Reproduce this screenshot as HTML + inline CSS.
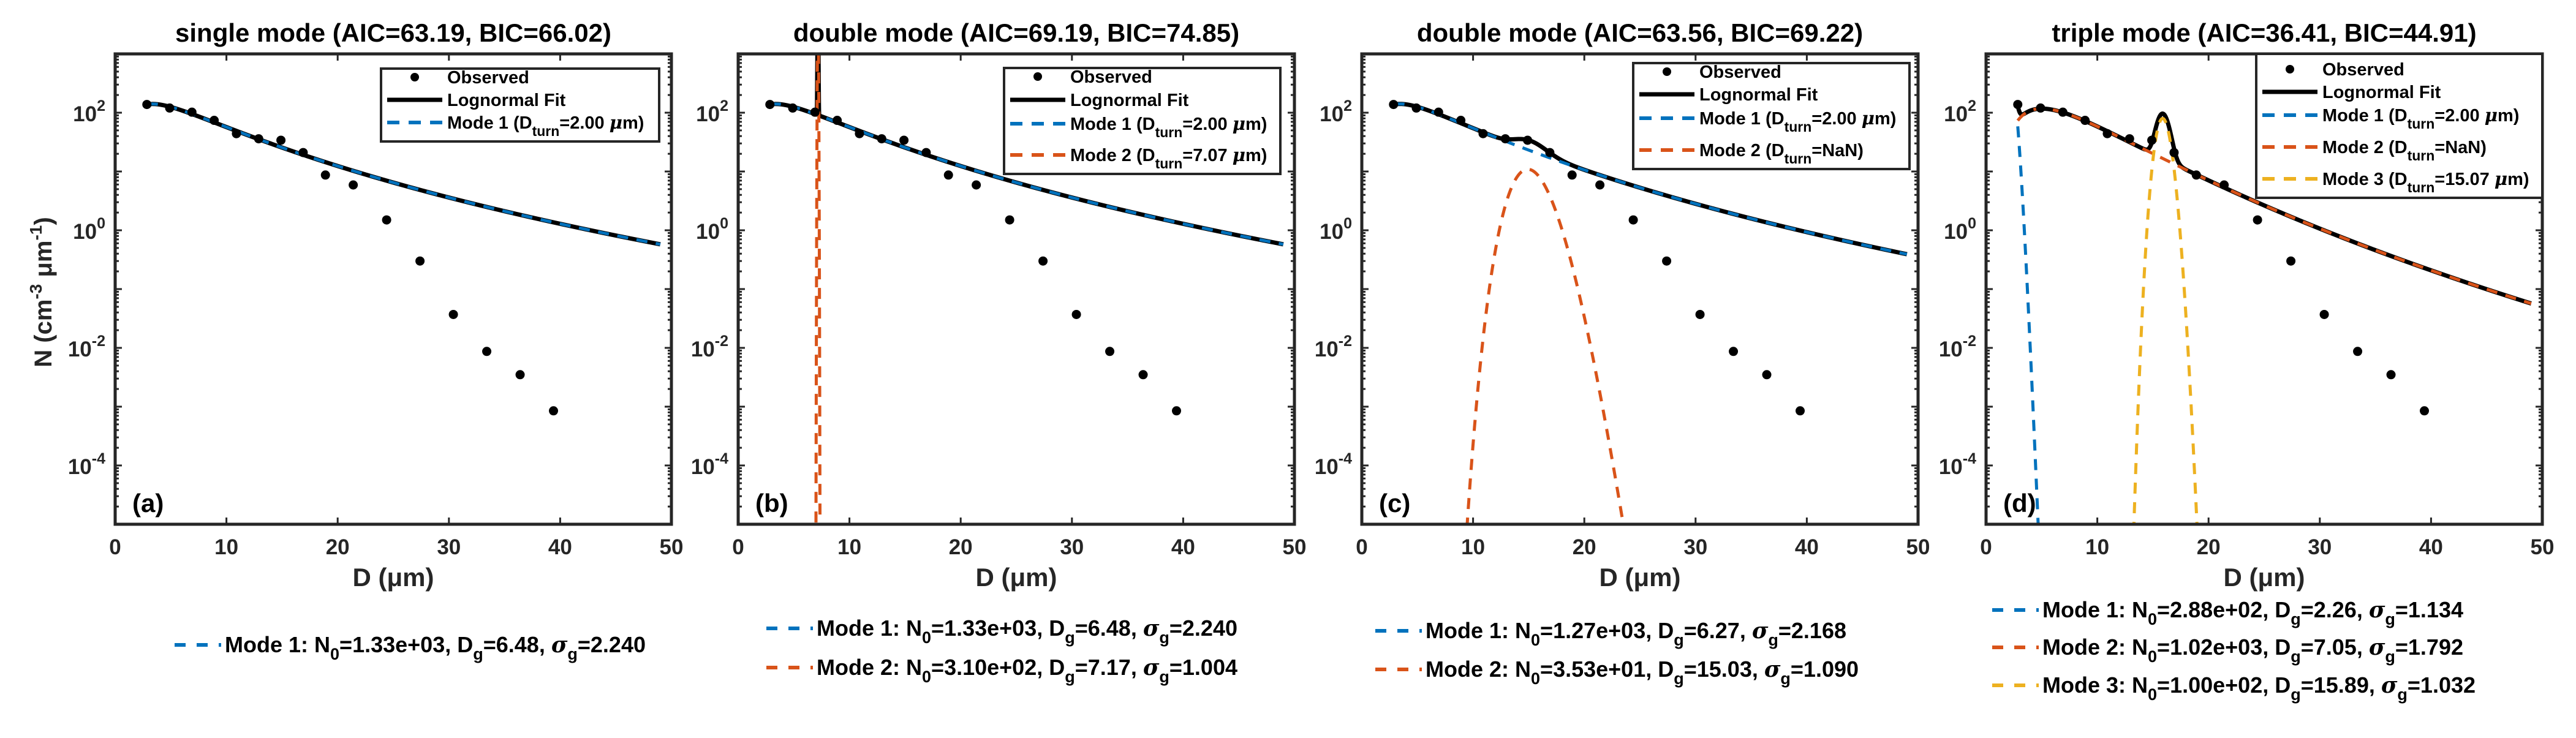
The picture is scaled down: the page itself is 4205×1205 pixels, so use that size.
<!DOCTYPE html>
<html><head><meta charset="utf-8">
<style>
html,body{margin:0;padding:0;background:#fff;}
svg{display:block;font-family:"Liberation Sans",Arial,sans-serif;font-weight:bold;}
</style></head>
<body>
<svg id="chart" xmlns="http://www.w3.org/2000/svg" width="4205" height="1205" viewBox="0 0 4205 1205"></svg>
<script>
// ---- data ----
const obsD = [2.85,4.9,6.9,8.9,10.9,12.9,14.9,16.9,18.9,21.4,24.4,27.4,30.4,33.4,36.4,39.4];
const obsN = [138,120,102,74,44,36,34,21,8.7,5.9,1.5,0.30,0.037,0.0087,0.0035,0.00085];
const titles = ["single mode (AIC=63.19, BIC=66.02)","double mode (AIC=69.19, BIC=74.85)","double mode (AIC=63.56, BIC=69.22)","triple mode (AIC=36.41, BIC=44.91)"];
const panelLabels = ["(a)","(b)","(c)","(d)"];
const modeN0 = [[1330],[1330,310],[1270,35.3],[288,1020,100]];
const modeDg = [[6.48],[6.48,7.17],[6.27,15.03],[2.26,7.05,15.89]];
const modeSg = [[2.240],[2.240,1.004],[2.168,1.090],[1.134,1.792,1.032]];
const modeN0Text = [["1.33e+03"],["1.33e+03","3.10e+02"],["1.27e+03","3.53e+01"],["2.88e+02","1.02e+03","1.00e+02"]];
const modeDgText = [["6.48"],["6.48","7.17"],["6.27","15.03"],["2.26","7.05","15.89"]];
const modeSgText = [["2.240"],["2.240","1.004"],["2.168","1.090"],["1.134","1.792","1.032"]];
const dTurn = [["2.00"],["2.00","7.07"],["2.00","NaN"],["2.00","NaN","15.07"]];
const xTicks = [0,10,20,30,40,50];
const yTickExp = [-4,-2,0,2];
const modeColors = ["#0072BD","#D95319","#EDB120"];

// ---- layout ----
const NS="http://www.w3.org/2000/svg";
const svg=document.getElementById('chart');
const lefts=[188,1205,2223,3242], W=908, TOP=88, BOT=856;
const XMIN=0,XMAX=50,LMIN=-5,LMAX=3;
const legBoxes=[{x:622,y:112,w:454,ys:[136,173,210]},{x:1639,y:111,w:451,ys:[135,173,212,263]},{x:2666,y:103,w:451,ys:[127,164,203,255]},{x:3683,y:88,w:467,ys:[123,160,198,250,302]}];
const botLeg=[{x:285,ys:[1065]},{x:1251,ys:[1038,1102]},{x:2245,ys:[1042,1105]},{x:3252,ys:[1008,1069,1131]}];
function el(tag,attrs,parent){const e=document.createElementNS(NS,tag);for(const k in attrs)e.setAttribute(k,attrs[k]);(parent||svg).appendChild(e);return e;}
function lognorm(D,N0,Dg,sg){const ls=Math.log(sg);const z=Math.log(D/Dg)/ls;return N0/(Math.sqrt(2*Math.PI)*D*ls)*Math.exp(-0.5*z*z);}
const defs=el('defs',{});

for(let p=0;p<4;p++){
  const L=lefts[p];
  const xs=v=>L+(v-XMIN)/(XMAX-XMIN)*W;
  const ys=v=>BOT-(Math.log10(v)-LMIN)/(LMAX-LMIN)*(BOT-TOP);
  const g=el('g',{});
  
  
  const cp=el('clipPath',{id:'clip'+p},defs);
  el('rect',{x:L,y:TOP,width:W,height:BOT-TOP},cp);
  const t=el('text',{x:L+W/2,y:68,'text-anchor':'middle','font-size':42,fill:'#000'},g);
  t.textContent=titles[p];
  
  
  const tk=el('g',{stroke:'#262626','stroke-width':3},g);
  
  
  xTicks.forEach(v=>{
    const x=xs(v);
    el('line',{x1:x,x2:x,y1:BOT,y2:BOT-11},tk);
    el('line',{x1:x,x2:x,y1:TOP,y2:TOP+11},tk);
    const tl=el('text',{x:x,y:905,'text-anchor':'middle','font-size':35,fill:'#262626',stroke:'none'},g);
    tl.textContent=String(v);
    
    
  });
  for(let e=LMIN;e<LMAX;e++){
    for(let m=1;m<10;m++){
      const v=m*Math.pow(10,e); const y=ys(v); const len=(m===1)?11:6;
      if(m===1 && e===LMIN) continue;
      el('line',{x1:L,x2:L+len,y1:y,y2:y},tk);
      el('line',{x1:L+W,x2:L+W-len,y1:y,y2:y},tk);
    }
  }
  yTickExp.forEach(e=>{
    const y=ys(Math.pow(10,e));
    const tl=el('text',{x:L-16,y:y+14,'text-anchor':'end','font-size':35,fill:'#262626'},g);
    
    
    const a=el('tspan',{},tl);a.textContent='10';
    const b=el('tspan',{dy:-17,'font-size':25},tl);b.textContent=String(e);
  });
  const xt=el('text',{x:L+W/2,y:957,'text-anchor':'middle','font-size':42,fill:'#262626'},g);
  xt.textContent='D (\u03bcm)';
  
  
  const cg=el('g',{'clip-path':'url(#clip'+p+')',fill:'none'},g);
  const Ds=[];for(let d=2.85;d<=49.0001;d+=0.005)Ds.push(d);
  const clampY=v=>{const y=ys(Math.max(v,1e-7));return Math.min(Math.max(y,TOP-50),BOT+50);};
  let tot='';
  Ds.forEach((d,i)=>{let s=0;for(let m=0;m<modeN0[p].length;m++)s+=lognorm(d,modeN0[p][m],modeDg[p][m],modeSg[p][m]);tot+=(i?'L':'M')+xs(d).toFixed(2)+' '+clampY(s).toFixed(2);});
  const fit=el('path',{d:tot,stroke:'#000','stroke-width':7,'stroke-linejoin':'round'},cg);
  
  
  for(let m=0;m<modeN0[p].length;m++){
    let d='';
    Ds.forEach((dd,i)=>{const v=lognorm(dd,modeN0[p][m],modeDg[p][m],modeSg[p][m]);d+=(i?'L':'M')+xs(dd).toFixed(2)+' '+clampY(v).toFixed(2);});
    const mp=el('path',{d:d,stroke:modeColors[m],'stroke-width':5,'stroke-dasharray':'18 14'},cg);
    
    
  }
  obsD.forEach((d,i)=>{
    const c=el('circle',{cx:xs(d),cy:ys(obsN[i]),r:7.5,fill:'#000'},cg);
    
    
  });
  const fr=el('rect',{x:L,y:TOP,width:W,height:BOT-TOP,fill:'none',stroke:'#262626','stroke-width':5},g);
  
  
  const pl=el('text',{x:L+28,y:836,'font-size':42,fill:'#000'},g);
  pl.textContent=panelLabels[p];
  
  
  const lb=legBoxes[p];
  const lg=el('g',{},g);
  
  
  const bh=lb.ys[lb.ys.length-1]+21-lb.y;
  el('rect',{x:lb.x,y:lb.y,width:lb.w,height:bh,fill:'#fff',stroke:'#262626','stroke-width':4},lg);
  const lx=lb.x+10, tx=lb.x+108;
  lb.ys.forEach((yy,i)=>{
    const cy=yy-10;
    if(i===0){el('circle',{cx:lx+45,cy:cy,r:7,fill:'#000'},lg);}
    else if(i===1){el('line',{x1:lx,x2:lx+90,y1:cy,y2:cy,stroke:'#000','stroke-width':7},lg);}
    else{el('line',{x1:lx,x2:lx+90,y1:cy,y2:cy,stroke:modeColors[i-2],'stroke-width':6,'stroke-dasharray':'20 15'},lg);}
    const te=el('text',{x:tx,y:yy,'font-size':29,fill:'#000'},lg);
    
    
    if(i===0)te.textContent='Observed';
    else if(i===1)te.textContent='Lognormal Fit';
    else{
      const a=el('tspan',{},te);a.textContent='Mode '+(i-1)+' (D';
      const b=el('tspan',{dy:12,'font-size':23},te);b.textContent='turn';
      const val=dTurn[p][i-2];
      const c=el('tspan',{dy:-12},te);c.textContent='='+val+(val==='NaN'?')':' ');
      if(val!=='NaN'){
        const mu=el('tspan',{'font-style':'italic','font-family':'"DejaVu Serif",serif'},te);mu.textContent='\u03bc';
        const r=el('tspan',{},te);r.textContent='m)';
      }
    }
  });
  const bl=botLeg[p];
  bl.ys.forEach((yy,m)=>{
    const cy=yy-12;
    const ln=el('line',{x1:bl.x,x2:bl.x+76,y1:cy,y2:cy,stroke:modeColors[m],'stroke-width':6,'stroke-dasharray':'18 18'},g);
    
    
    const te=el('text',{x:bl.x+82,y:yy,'font-size':36,fill:'#000'},g);
    
    
    const parts=[['Mode '+(m+1)+': N',0],['0',1],['='+modeN0Text[p][m]+', D',0],['g',1],['='+modeDgText[p][m]+', ',0],['\u03c3',2],['g',1],['='+modeSgText[p][m],0]];
    let sub=false;
    parts.forEach(([s,k])=>{
      const attrs={};
      if(k===1&&!sub){attrs.dy=12;attrs['font-size']=27;sub=true;}
      else if(k===1){attrs['font-size']=27;}
      else if(sub){attrs.dy=-12;sub=false;}
      if(k===2){attrs['font-family']='"DejaVu Serif",serif';attrs['font-style']='italic';}
      const ts=el('tspan',attrs,te);ts.textContent=s;
    });
  });
}
const yl=el('text',{x:0,y:0,transform:'translate(84,477) rotate(-90)','text-anchor':'middle','font-size':40,fill:'#262626'});


[['N (cm',0],['-3',1],[' \u03bcm',0],['-1',1],[')',0]].forEach(([s,k],i,arr)=>{
  const at={};
  if(k===1){at.dy=-16;at['font-size']=28;}
  else if(i>0&&arr[i-1][1]===1){at.dy=16;}
  const ts=el('tspan',at,yl);ts.textContent=s;
});
</script>
</body></html>
